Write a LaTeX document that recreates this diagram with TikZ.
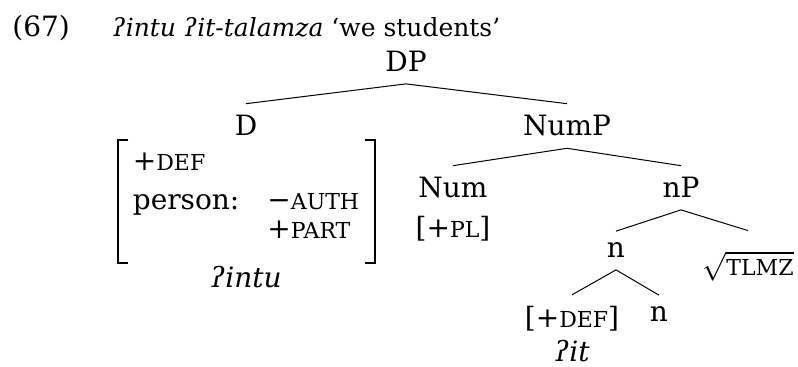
\documentclass[tikz,border=0pt]{standalone}
\usepackage{fontspec}
\setmainfont{DejaVu Serif}
\usepackage{tikz}

\newcommand{\featsc}[1]{{\fontsize{11}{13}\selectfont #1}}
\tikzset{
    cat/.style={anchor=base, inner xsep=0pt, inner ysep=5.75pt},
    branch/.style={line width=0.5pt},
    brack/.style={line width=1pt},
}

\begin{document}
\begin{tikzpicture}[x=0.5pt, y=-0.5pt, font=\fontsize{14}{17}\selectfont]
    \useasboundingbox (0, 0) rectangle (798, 367);
    \node [anchor=base west, inner sep=0pt] (exno) at (12, 37) {(67)};
    \node [anchor=base west, inner sep=0pt, font=\fontsize{12.5}{15}\selectfont] (gloss) at (112, 37) {\textit{ʔintu ʔit-talamza} ‘we students’};

    \node [cat] (DP) at (406, 72) {DP};
    \node [cat] (D) at (246, 136) {D};
    \node [cat] (NumP) at (567, 136) {NumP};
    \node [cat] (Num) at (453, 198) {Num};
    \node [cat] (PL) at (453, 238) {[+\featsc{PL}]};
    \node [cat] (nP) at (681, 198) {nP};
    \node [cat] (nhi) at (616, 258) {n};
    \node [cat, text height=16.75pt] (root) at (748, 276) {$\sqrt{\mbox{\featsc{TLMZ}}}$};
    \node [cat] (def) at (572, 328) {[+\featsc{DEF}]};
    \node [cat] (nlo) at (659, 322) {n};
    \node [cat] (it) at (572, 362) {\textit{ʔit}};

    \node [anchor=base, inner sep=0pt] (feat) at (246, 171) {\begin{tabular}[t]{@{}l@{\hspace{14pt}}l@{}}
        +\featsc{DEF} & \\[2.5pt]
        person: & −\featsc{AUTH} \\[-2.5pt]
        & +\featsc{PART}
    \end{tabular}};
    \node [cat] (intu) at (246, 288) {\textit{ʔintu}};
    \draw [brack] ([xshift=-2pt, yshift=3.6pt]feat.north west) -- ([xshift=-7pt, yshift=3.6pt]feat.north west)
        -- ([xshift=-7pt, yshift=-6.9pt]feat.south west) -- ([xshift=-2pt, yshift=-6.9pt]feat.south west);
    \draw [brack] ([xshift=2.5pt, yshift=3.6pt]feat.north east) -- ([xshift=7.5pt, yshift=3.6pt]feat.north east)
        -- ([xshift=7.5pt, yshift=-6.9pt]feat.south east) -- ([xshift=2.5pt, yshift=-6.9pt]feat.south east);

    \draw [branch] (DP.south) -- (D.north);
    \draw [branch] (DP.south) -- (NumP.north);
    \draw [branch] (NumP.south) -- (Num.north);
    \draw [branch] (NumP.south) -- (nP.north);
    \draw [branch] (nP.south) -- (nhi.north);
    \draw [branch] (nP.south) -- (root.north);
    \draw [branch] (nhi.south) -- (def.north);
    \draw [branch] (nhi.south) -- (nlo.north);
\end{tikzpicture}
\end{document}
